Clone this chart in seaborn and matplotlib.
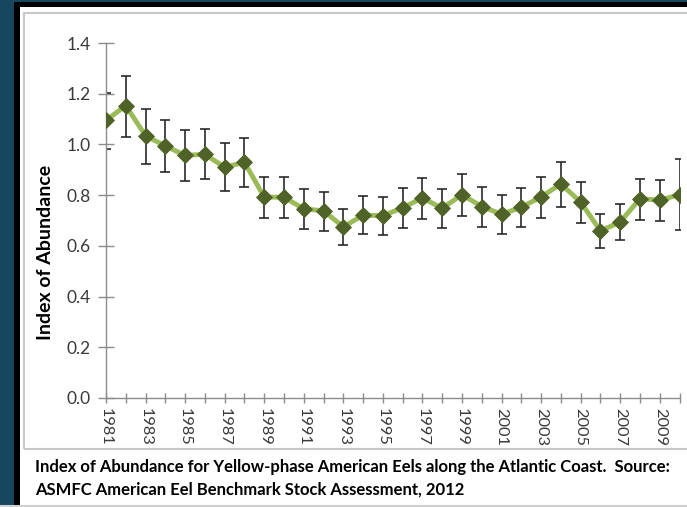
import numpy as np
import pandas as pd
import matplotlib.pyplot as plt
import matplotlib.patches as patches
import seaborn as sns

sns.set_theme(style="white")
plt.rcParams['font.family'] = ['Lato', 'DejaVu Sans']

# Data
years = list(range(1981, 2011))
index = [1.095, 1.153, 1.034, 0.994, 0.957, 0.961, 0.910, 0.930, 0.792, 0.792,
         0.746, 0.738, 0.675, 0.721, 0.719, 0.750, 0.789, 0.748, 0.802, 0.755,
         0.725, 0.752, 0.793, 0.844, 0.773, 0.659, 0.694, 0.786, 0.780, 0.802]
upper = [1.203, 1.271, 1.141, 1.097, 1.057, 1.062, 1.007, 1.027, 0.872, 0.872,
         0.823, 0.813, 0.746, 0.796, 0.794, 0.830, 0.869, 0.826, 0.885, 0.834,
         0.801, 0.830, 0.873, 0.931, 0.853, 0.727, 0.765, 0.865, 0.858, 0.944]
lower = [0.982, 1.030, 0.924, 0.890, 0.857, 0.863, 0.817, 0.834, 0.709, 0.709,
         0.667, 0.659, 0.604, 0.646, 0.644, 0.672, 0.705, 0.669, 0.717, 0.676,
         0.648, 0.673, 0.709, 0.755, 0.692, 0.590, 0.623, 0.703, 0.698, 0.663]

df = pd.DataFrame({"Year": years, "Index": index, "Upper": upper, "Lower": lower})

W, H = 687, 507
fig = plt.figure(figsize=(W / 100, H / 100), dpi=100)
fig.patch.set_facecolor('#16475f')

# frame: black band and white slide area
fig.add_artist(patches.Rectangle((14 / W, 0), 1, 1 - 2 / H, transform=fig.transFigure,
                                 facecolor='black', edgecolor='none', zorder=-3))
fig.add_artist(patches.Rectangle((20 / W, 0), 1, 1 - 7 / H, transform=fig.transFigure,
                                 facecolor='white', edgecolor='none', zorder=-2))
# light grey chart border
fig.add_artist(patches.Rectangle((24 / W, 1 - 449 / H), 1, (449 - 13) / H,
                                 transform=fig.transFigure, facecolor='none',
                                 edgecolor='#c8c8c8', lw=1.5, zorder=-1))
fig.add_artist(plt.Line2D([0, 1], [1 - 505.5 / H] * 2, transform=fig.transFigure,
                          color='#d0d0d0', lw=1.5))

ax = fig.add_axes([106 / W, 109 / H, (679.5 - 106) / W, (398 - 43) / H])
ax.set_facecolor('none')

ax.errorbar(df["Year"], df["Index"],
            yerr=[df["Index"] - df["Lower"], df["Upper"] - df["Index"]],
            fmt='none', ecolor='#2a2a2a', elinewidth=1.2, capsize=3.5, capthick=1.2, zorder=2)
sns.lineplot(data=df, x="Year", y="Index", ax=ax, color='#9bbb59', lw=3.5, zorder=3)
sns.scatterplot(data=df, x="Year", y="Index", ax=ax, marker='D', s=65,
                color='#4f6228', edgecolor='#4f6228', zorder=4)

ax.set_xlim(1981, 2010)
ax.set_ylim(0, 1.4)
ax.set_yticks(np.arange(0, 1.41, 0.2))
ax.set_yticklabels([f"{v:.1f}" for v in np.arange(0, 1.41, 0.2)])
ax.set_xticks(range(1981, 2010, 2))
ax.set_xticks(range(1982, 2011, 2), minor=True)
ax.set_xticklabels([str(y) for y in range(1981, 2010, 2)], rotation=-90, va='top', ha='center')

for s in ['top', 'right']:
    ax.spines[s].set_visible(False)
for s in ['left', 'bottom']:
    ax.spines[s].set_color('#8c8c8c')
    ax.spines[s].set_linewidth(1)

ax.tick_params(axis='y', which='major', direction='inout', length=12, width=1,
               color='#8c8c8c', labelsize=12.5, labelcolor='#3a3a3a', pad=5, left=True)
ax.tick_params(axis='x', which='both', direction='inout', length=7, width=1,
               color='#8c8c8c', bottom=True)
ax.tick_params(axis='x', which='major', labelsize=11.8, labelcolor='#3a3a3a', pad=4)

ax.set_xlabel("")
ax.set_ylabel("Index of Abundance", fontsize=14, fontweight='bold', color='black')
ax.yaxis.set_label_coords(-0.090, 0.41)

fig.text(35 / W, 1 - 467 / H,
         "Index of Abundance for Yellow-phase American Eels along the Atlantic Coast.  Source:",
         fontsize=12.0, fontweight='bold', color='black', va='center', ha='left')
fig.text(35 / W, 1 - 490 / H, "ASMFC American Eel Benchmark Stock Assessment, 2012",
         fontsize=12.0, fontweight='bold', color='black', va='center', ha='left')

fig.savefig("out.png", dpi=100, facecolor=fig.get_facecolor())
